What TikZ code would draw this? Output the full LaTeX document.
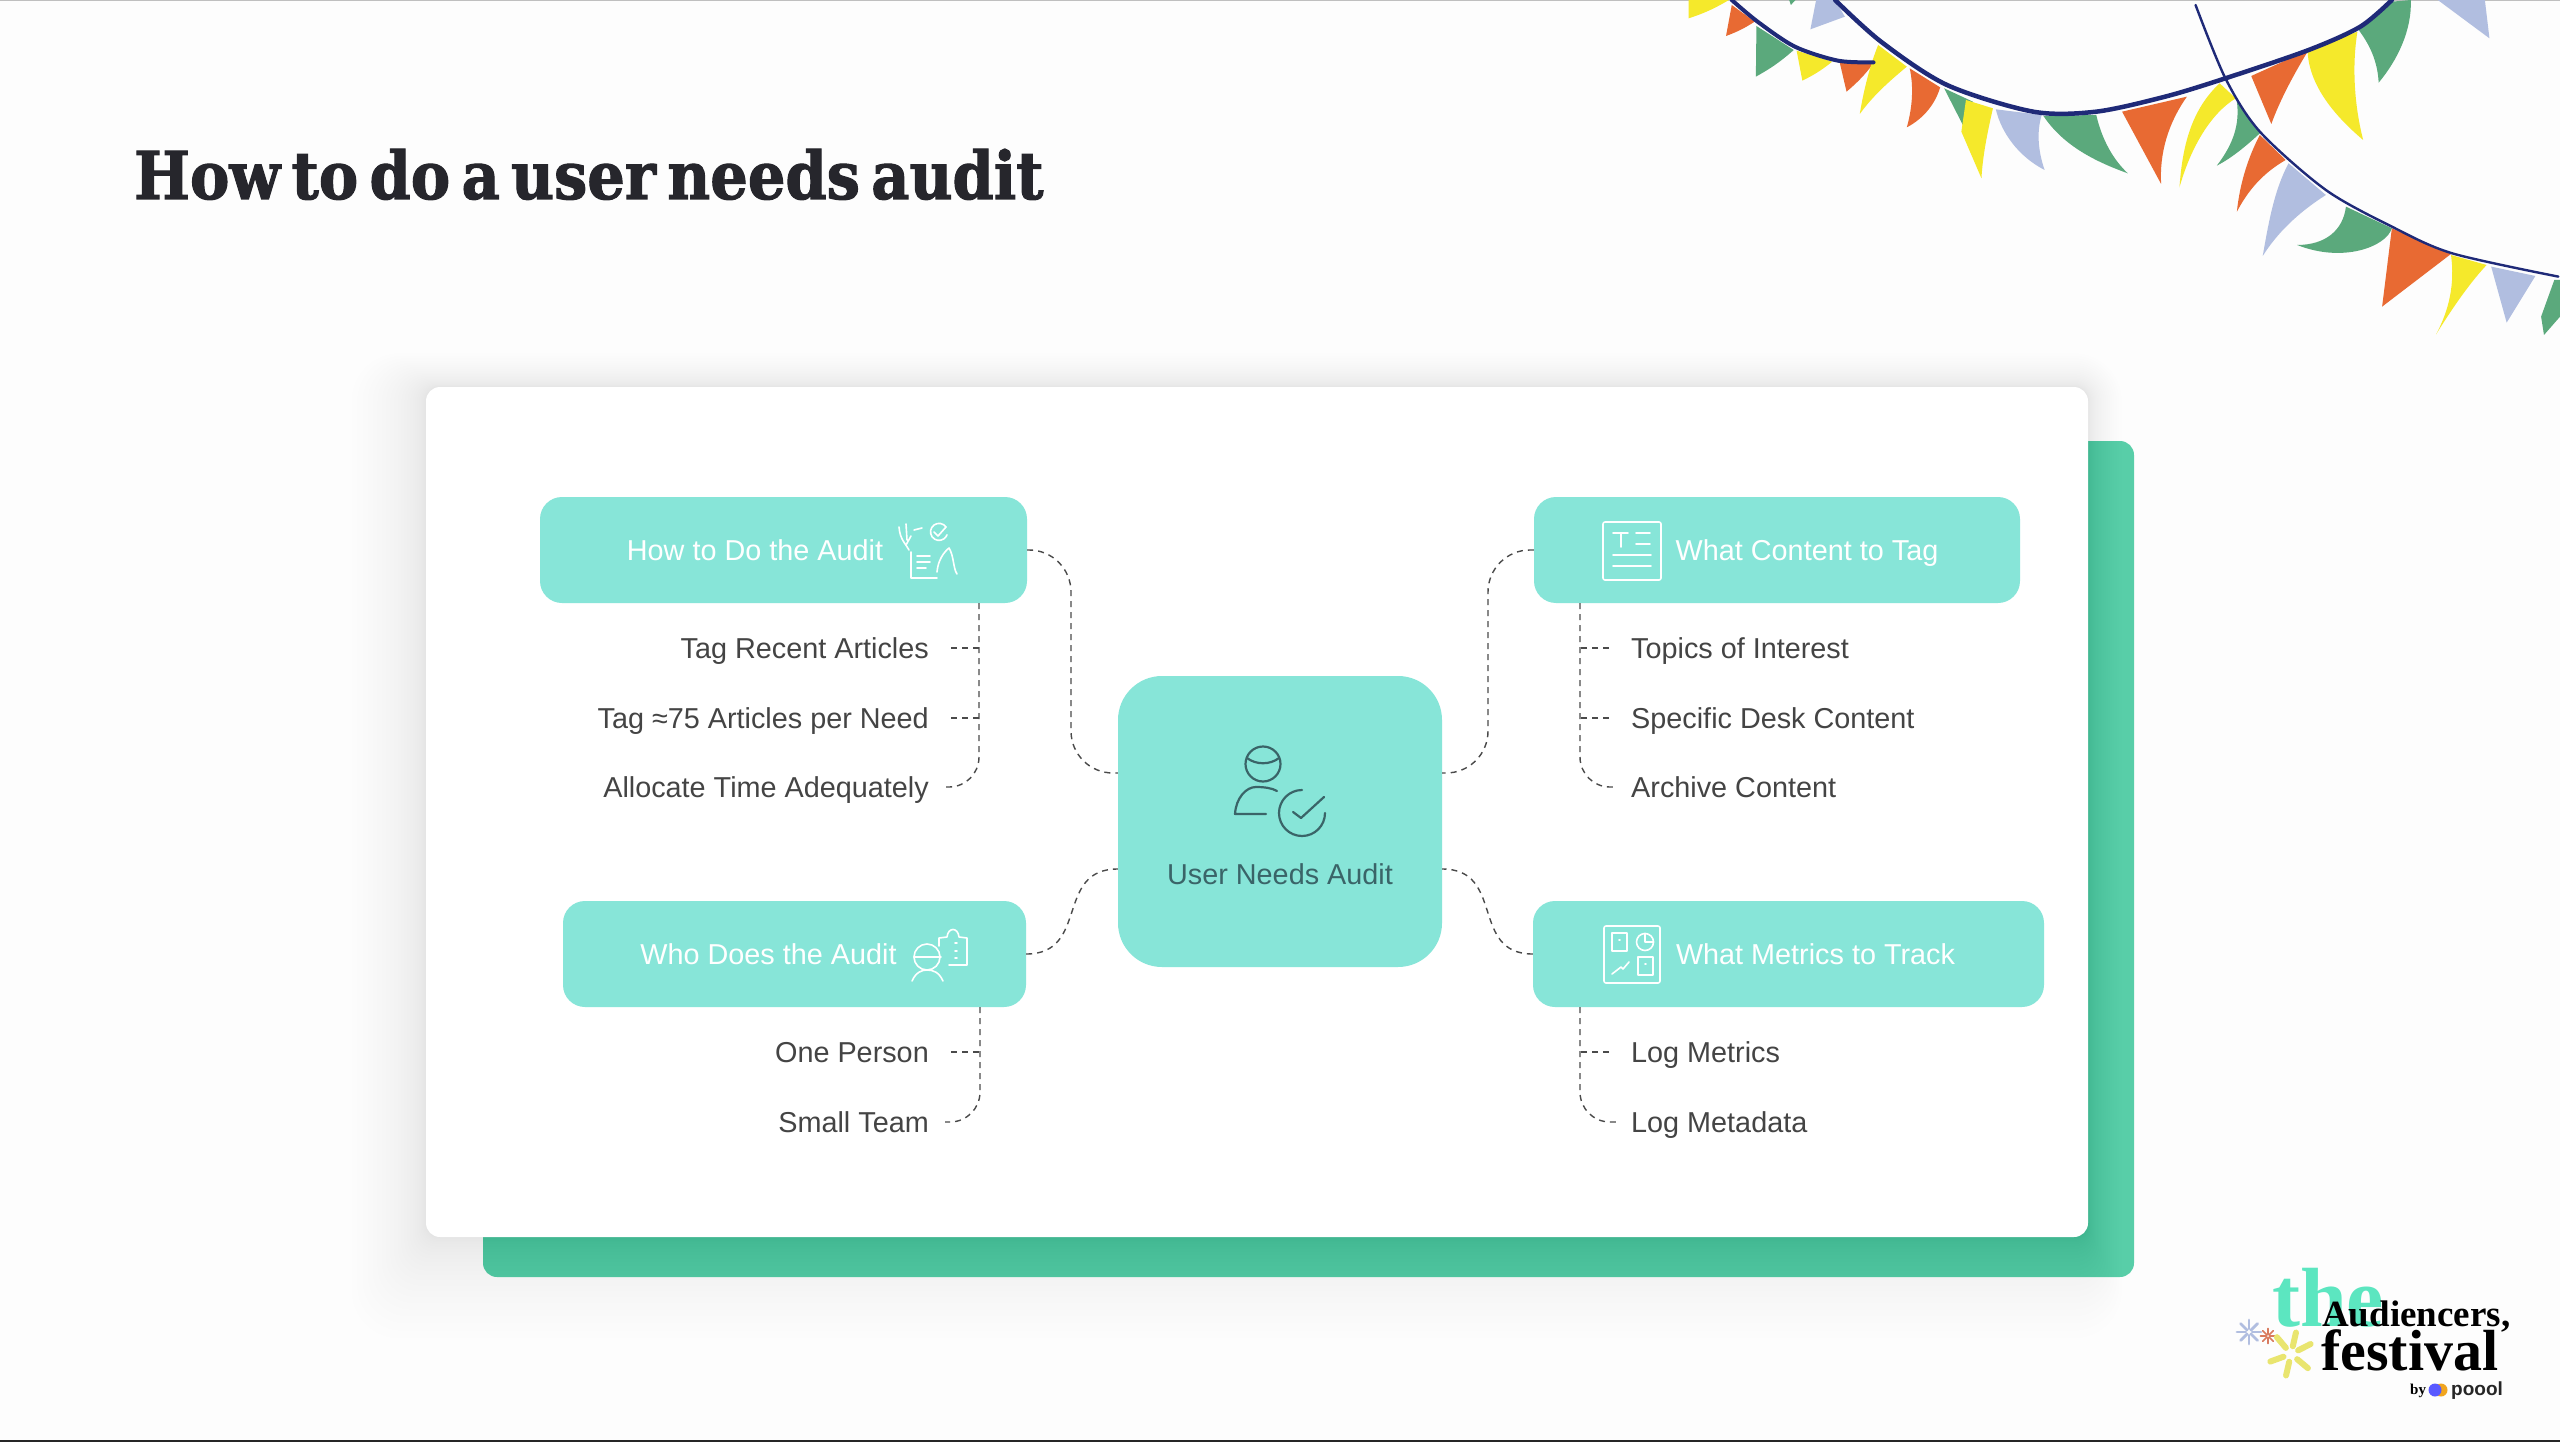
\documentclass[tikz,border=0pt]{standalone}
\usepackage{fontspec}
\usetikzlibrary{positioning}
\setmainfont{Liberation Sans}
\newfontfamily\titlefont[FakeStretch=0.895,WordSpace=0.55,FakeBold=1.6]{DejaVu Serif}
\newfontfamily\logofont{Liberation Serif}
\definecolor{pagewhite}{HTML}{FDFDFD}
\definecolor{panelgreen}{HTML}{58CEA8}
\definecolor{boxteal}{HTML}{87E5D8}
\definecolor{linkgray}{HTML}{4A4A4A}
\definecolor{itemgray}{HTML}{444444}
\definecolor{titleink}{HTML}{26262C}
\definecolor{iconink}{HTML}{3A6468}
\definecolor{flagorange}{HTML}{E86A33}
\definecolor{flagyellow}{HTML}{F5E92B}
\definecolor{flaggreen}{HTML}{5BA97C}
\definecolor{flagblue}{HTML}{B1BEE0}
\definecolor{stringblue}{HTML}{1F2A78}
\definecolor{logoteal}{HTML}{5CE6C0}
\definecolor{sparkyellow}{HTML}{E9E56F}
\definecolor{sparkorange}{HTML}{D97A5E}
\tikzset{
  topicbox/.style={on grid,fill=boxteal,rounded corners=22pt,minimum height=106pt,inner xsep=0pt,
    text=white,font=\fontsize{28.8}{28.8}\selectfont,text height=20pt,text depth=0pt},
  hubbox/.style={fill=boxteal,rounded corners=44pt,minimum width=324pt,minimum height=291pt},
  itemleft/.style={anchor=east,inner xsep=16pt,inner ysep=0pt,text=itemgray,
    font=\fontsize{28.8}{28.8}\selectfont,text height=20pt,text depth=0pt},
  itemright/.style={anchor=west,inner xsep=15pt,inner ysep=0pt,text=itemgray,
    font=\fontsize{28.8}{28.8}\selectfont,text height=20pt,text depth=0pt},
  link/.style={draw=linkgray,line width=1.4pt,dash pattern=on 6pt off 5pt},
  icon/.style={draw=white,line width=1.6pt,line cap=round,line join=round},
  hubicon/.style={draw=iconink,line width=2.2pt,line cap=round,line join=round},
  bunting/.style={draw=stringblue,line cap=round},
  spark/.style={line cap=round}
}
\begin{document}
\begin{tikzpicture}[x=1pt,y=-1pt,node distance=70pt]
  \useasboundingbox (0,0) rectangle (2560,1442);
  \fill[pagewhite] (0,0) rectangle (2560,1442);
  \fill[black!25] (0,0) rectangle (2560,1.2);
  \fill[black!85] (0,1440) rectangle (2560,1442);

  \fill[panelgreen,rounded corners=14pt] (483,441) rectangle (2134,1277);
  \foreach \g in {1,...,26}
    \fill[black,opacity=0.0052,rounded corners=14+\g*\g*0.05] (426-\g*\g*0.11,387-\g*\g*0.05) rectangle (2088+\g*\g*0.05,1237+\g*\g*0.15);
  \fill[white,rounded corners=14pt] (426,387) rectangle (2088,1237);

  \node[anchor=base west,inner sep=0pt,text=titleink,font=\titlefont\bfseries\fontsize{66}{66}\selectfont] (title) at (134,199) {How to do a user needs audit};

  \node[hubbox] (audit) at (1280,821.5) {};
  \node[text=iconink,font=\fontsize{28.8}{28.8}\selectfont,text height=20pt,text depth=0pt,inner sep=0pt] (auditlabel) at (1280,874) {User Needs Audit};
  \node[topicbox,minimum width=487pt,above left=271.5pt and 496.5pt of audit] (howto) {How to Do the Audit\hspace*{57pt}};
  \node[topicbox,minimum width=463pt,below left=132.5pt and 485.5pt of audit] (who) {Who Does the Audit\hspace*{52pt}};
  \node[topicbox,minimum width=486pt,above right=271.5pt and 497pt of audit] (content) {\hspace*{60pt}What Content to Tag};
  \node[topicbox,minimum width=511pt,below right=132.5pt and 508.5pt of audit] (metrics) {\hspace*{54pt}What Metrics to Track};

  \node[itemleft] (recent) at (945,648) {Tag Recent Articles};
  \node[itemleft,below=70pt of recent.east,anchor=east] (perneed) {Tag ≈75 Articles per Need};
  \node[itemleft,below=69pt of perneed.east,anchor=east] (allocate) {Allocate Time Adequately};
  \node[itemleft] (oneperson) at (945,1052) {One Person};
  \node[itemleft,below=70pt of oneperson.east,anchor=east] (smallteam) {Small Team};
  \node[itemright] (topics) at (1616,648) {Topics of Interest};
  \node[itemright,below=70pt of topics.west,anchor=west] (desk) {Specific Desk Content};
  \node[itemright,below=69pt of desk.west,anchor=west] (archive) {Archive Content};
  \node[itemright] (logmetrics) at (1616,1052) {Log Metrics};
  \node[itemright,below=70pt of logmetrics.west,anchor=west] (logmetadata) {Log Metadata};

  \coordinate (joinhow) at (1071,660);
  \coordinate (joincontent) at (1488,660);
  \coordinate (trunkhow) at (979,603);
  \coordinate (trunkwho) at (980,1007);
  \coordinate (trunkcontent) at (1580,603);
  \coordinate (trunkmetrics) at (1580,1007);

  \draw[link,rounded corners=42pt] (howto.east) -| (joinhow) |- ([yshift=48.5pt]audit.west);
  \draw[link] (who.east) to[out=0,in=180,looseness=1.3] ([yshift=-47.5pt]audit.west);
  \draw[link,rounded corners=42pt] (content.west) -| (joincontent) |- ([yshift=48.5pt]audit.east);
  \draw[link] (metrics.west) to[out=180,in=0,looseness=1.3] ([yshift=-47.5pt]audit.east);

  \draw[link,rounded corners=30pt] (trunkhow) |- (allocate.east);
  \draw[link,shorten <=6pt] (recent.east) -- (recent.east -| trunkhow);
  \draw[link,shorten <=6pt] (perneed.east) -- (perneed.east -| trunkhow);
  \draw[link,rounded corners=30pt] (trunkwho) |- (smallteam.east);
  \draw[link,shorten <=6pt] (oneperson.east) -- (oneperson.east -| trunkwho);
  \draw[link,rounded corners=30pt] (trunkcontent) |- (archive.west);
  \draw[link,shorten <=7pt] (topics.west) -- (topics.west -| trunkcontent);
  \draw[link,shorten <=7pt] (desk.west) -- (desk.west -| trunkcontent);
  \draw[link,rounded corners=30pt] (trunkmetrics) |- (logmetadata.west);
  \draw[link,shorten <=7pt] (logmetrics.west) -- (logmetrics.west -| trunkmetrics);

  % hub icon
  \draw[hubicon] (1263,764) circle (17.5);
  \draw[hubicon] (1247,758) .. controls (1256,765) and (1270,765) .. (1279,758);
  \draw[hubicon] (1266,814) -- (1235,814) .. controls (1236,798) and (1246,787) .. (1256,787) .. controls (1264,787) and (1272,788) .. (1277,791);
  \draw[hubicon] (1302,790) arc[start angle=-90,end angle=-360,radius=23];
  \draw[hubicon] (1293,812) -- (1301,818) -- (1324,797);

  % how to icon
  \draw[icon] (911,552) -- (911,578) -- (937,578);
  \draw[icon] (917,556) -- (930,556) (917,562) -- (930,562) (917,568) -- (926,568);
  \draw[icon] (939,532) ++(7,-5) arc[start angle=-35,end angle=-340,radius=8.5];
  \draw[icon] (934,532) -- (938,536) -- (946,527);
  \draw[icon] (899,527) .. controls (900,540) and (906,544) .. (909,550);
  \draw[icon] (906,524) -- (907,540) (914,530) -- (922,528) (911,536) -- (906,545);
  \draw[icon] (937,572) .. controls (938,560) and (944,552) .. (949,548) .. controls (954,556) and (953,568) .. (957,574);

  % who icon
  \draw[icon] (927,957) circle (13);
  \draw[icon] (914,957) -- (941,957);
  \draw[icon] (912,981) .. controls (916,972) and (922,970) .. (927,970) .. controls (933,970) and (939,972) .. (943,981);
  \draw[icon] (939,946) -- (939,938) -- (947,937) .. controls (948,927) and (958,927) .. (959,937) -- (967,938) -- (967,965) -- (949,965);
  \draw[icon] (955,943) -- (957,943) (955,951) -- (957,951) (955,958) -- (957,958);

  % content icon
  \draw[icon,rounded corners=2pt] (1603,522) rectangle (1661,580);
  \draw[icon] (1613,533) -- (1628,533) (1621,533) -- (1621,547);
  \draw[icon] (1636,533) -- (1650,533) (1636,544) -- (1650,544);
  \draw[icon] (1613,555) -- (1651,555) (1613,566) -- (1651,566);

  % metrics icon
  \draw[icon,rounded corners=2pt] (1604,926) rectangle (1660,983);
  \draw[icon] (1612,933) rectangle (1627,951);
  \draw[icon] (1645,942) circle (8.5);
  \draw[icon] (1645,933.5) -- (1645,942) -- (1653.5,942);
  \draw[icon] (1612,974) -- (1621,967) -- (1623,969) -- (1629,962);
  \draw[icon] (1638,957) rectangle (1653,975);
  \draw[icon] (1619,940) -- (1620,940) (1645,964) -- (1646,964);

  % bunting
  \begin{scope}[x=0.574pt,y=-0.3333pt,shift={(1660pt,0pt)}]
    \fill[flagyellow] (50,0) -- (120,0) to[bend left=6] (50,55) -- cycle;
    \fill[flagorange] (125,15) -- (165,65) to[bend left=6] (115,108) -- cycle;
    \fill[flaggreen] (168,78) -- (233,150) to[bend left=6] (167,230) -- cycle;
    \fill[flagyellow] (238,152) -- (300,185) to[bend left=6] (248,242) -- cycle;
    \fill[flagorange] (313,187) -- (372,190) to[bend left=6] (325,275) -- cycle;
    \fill[flaggreen] (225,0) -- (236,0) -- (228,15) -- cycle;
    \fill[flagblue] (272,0) -- (305,0) -- (322,50) -- (262,88) -- cycle;
    \fill[flagyellow] (380,135) -- (430,200) .. controls (395,250) and (370,290) .. (348,342) .. controls (355,270) and (365,200) .. (380,135);
    \fill[flagorange] (435,205) -- (488,262) .. controls (480,310) and (460,355) .. (430,382) .. controls (440,320) and (442,260) .. (435,205);
    \fill[flaggreen] (495,265) -- (545,305) -- (535,400) -- cycle;
    \fill[flagyellow] (533,300) -- (580,325) .. controls (570,400) and (562,470) .. (560,535) -- (525,395) -- cycle;
    \fill[flagblue] (585,328) -- (665,345) .. controls (655,400) and (660,460) .. (670,510) .. controls (625,470) and (595,400) .. (585,328);
    \fill[flaggreen] (668,348) -- (760,345) .. controls (770,420) and (790,480) .. (815,520) .. controls (750,480) and (700,430) .. (668,348);
    \fill[flagorange] (805,335) -- (918,290) .. controls (885,370) and (870,460) .. (873,552) -- cycle;
    \fill[flagyellow] (975,250) -- (1003,295) .. controls (960,340) and (925,440) .. (905,562) .. controls (910,440) and (925,330) .. (975,250);
    \fill[flagorange] (1030,228) -- (1130,150) .. controls (1105,220) and (1080,300) .. (1065,372) -- cycle;
    \fill[flagyellow] (1128,150) -- (1215,95) .. controls (1205,200) and (1210,320) .. (1225,420) .. controls (1170,340) and (1130,250) .. (1128,150);
    \fill[flaggreen] (1215,85) -- (1275,5) -- (1308,0) .. controls (1310,90) and (1285,180) .. (1252,248) .. controls (1250,180) and (1235,130) .. (1215,85);
    \fill[flagblue] (1355,0) -- (1437,0) -- (1445,115) -- cycle;
    \fill[flaggreen] (1005,305) -- (1045,400) .. controls (1020,440) and (995,475) .. (970,497) .. controls (1000,430) and (1010,370) .. (1005,305);
    \fill[flagorange] (1045,405) -- (1090,480) .. controls (1050,520) and (1025,570) .. (1005,635) .. controls (1010,550) and (1025,470) .. (1045,405);
    \fill[flagblue] (1095,490) -- (1160,585) .. controls (1110,640) and (1075,700) .. (1050,768) .. controls (1060,670) and (1070,570) .. (1095,490);
    \fill[flaggreen] (1195,620) -- (1275,685) .. controls (1265,740) and (1190,790) .. (1110,735) .. controls (1160,735) and (1190,690) .. (1195,620);
    \fill[flagorange] (1275,685) -- (1378,762) -- (1258,920) -- cycle;
    \fill[flagyellow] (1378,765) -- (1440,795) .. controls (1405,860) and (1375,940) .. (1352,1003) .. controls (1375,930) and (1385,850) .. (1378,765);
    \fill[flagblue] (1448,800) -- (1525,828) -- (1475,968) -- cycle;
    \fill[flaggreen] (1558,840) -- (1568,840) -- (1568,950) -- (1540,1005) -- (1535,950) -- cycle;
    \draw[bunting,line width=4pt] plot[smooth] coordinates {(125,0) (170,65) (235,140) (310,182) (372,187)};
    \draw[bunting,line width=4.5pt] plot[smooth] coordinates {(305,0) (385,125) (500,255) (650,335) (760,335) (880,290) (985,235) (1130,150) (1220,80) (1275,0)};
    \draw[bunting,line width=2.4pt] plot[smooth] coordinates {(933,15) (985,235) (1045,395) (1160,570) (1275,680) (1380,760) (1565,830)};
  \end{scope}

  % festival logo
  \node[anchor=base west,inner sep=0pt,text=logoteal,font=\logofont\bfseries\fontsize{84}{84}\selectfont] (logothe) at (2272,1326) {the};
  \node[anchor=base west,inner sep=0pt,text=black,font=\logofont\bfseries\fontsize{37}{37}\selectfont] (logoaudiencers) at (2322,1326) {Audiencers,};
  \node[anchor=base west,inner sep=0pt,text=black,font=\logofont\bfseries\fontsize{58}{58}\selectfont] (logofestival) at (2321,1370) {festival};
  \node[anchor=base west,inner sep=0pt,text=black,font=\logofont\bfseries\fontsize{15}{15}\selectfont] (logoby) at (2410,1394) {by};
  \fill[flagorange!60!yellow] (2441,1390) circle (6.5);
  \fill[blue!65!white] (2435,1390) circle (6.5);
  \node[anchor=base west,inner sep=0pt,text=black!85,font=\bfseries\fontsize{19}{19}\selectfont] (logopoool) at (2451,1395) {poool};
  \foreach \a in {0,45,...,315}
    \draw[spark,flagblue,line width=2.8pt] (2249,1332) ++(\a:3) -- ++(\a:9);
  \foreach \a in {0,45,...,315}
    \draw[spark,sparkorange,line width=1.6pt] (2268,1336) ++(\a:1.5) -- ++(\a:6);
  \foreach \a in {-77,-27,40,103,160,-130}
    \draw[spark,sparkyellow,line width=6pt] (2291,1354) ++(\a:8) -- ++(\a:14);
\end{tikzpicture}
\end{document}
